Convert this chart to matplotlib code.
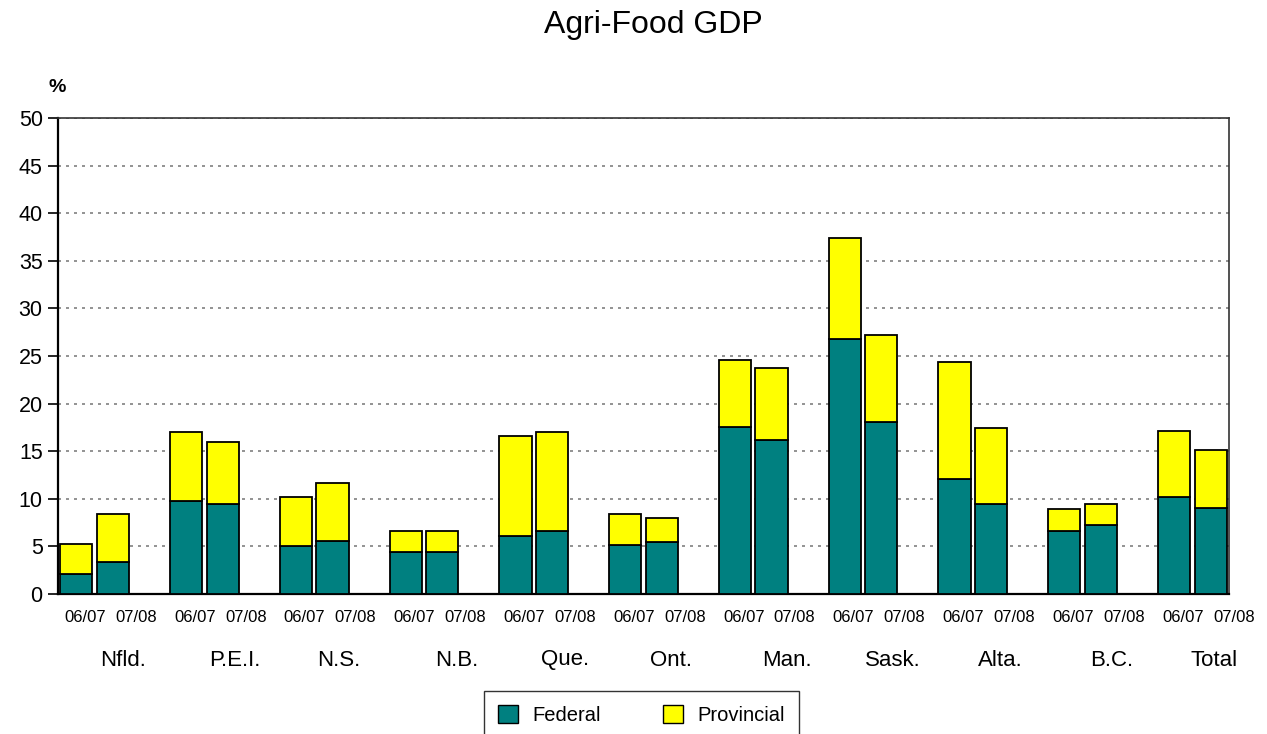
import matplotlib
matplotlib.use("Agg")
import matplotlib.pyplot as plt
from matplotlib.patches import Patch
import numpy as np

plt.rcParams['font.family'] = ['Liberation Sans', 'DejaVu Sans']

regions = ["Nfld.", "P.E.I.", "N.S.", "N.B.", "Que.", "Ont.", "Man.", "Sask.", "Alta.", "B.C.", "Total"]
years = ["06/07", "07/08"]
federal_0607 = [2.1, 9.8, 5.0, 4.4, 6.1, 5.15, 17.5, 26.8, 12.1, 6.6, 10.2]
federal_0708 = [3.35, 9.5, 5.6, 4.4, 6.6, 5.45, 16.2, 18.1, 9.5, 7.3, 9.05]
total_0607 = [5.25, 17.0, 10.2, 6.6, 16.6, 8.45, 24.6, 37.4, 24.4, 8.9, 17.15]
total_0708 = [8.45, 16.0, 11.7, 6.6, 17.0, 8.0, 23.75, 27.2, 17.45, 9.5, 15.15]
yticks = list(range(0, 51, 5))

teal = "#008080"
yellow = "#FFFF00"

W, H = 1267, 734
fig = plt.figure(figsize=(W / 100, H / 100), dpi=100)
ax = fig.add_axes([58 / W, 1 - 594 / H, (1229 - 58) / W, (594 - 118) / H])

n = len(regions)
x0 = np.arange(n) * 3
x1 = x0 + 1
w = 0.88
fed0 = np.array(federal_0607)
fed1 = np.array(federal_0708)
prov0 = np.array(total_0607) - fed0
prov1 = np.array(total_0708) - fed1

kw = dict(width=w, edgecolor="black", linewidth=1.3, zorder=3)
ax.bar(x0, fed0, color=teal, **kw)
ax.bar(x0, prov0, bottom=fed0, color=yellow, **kw)
ax.bar(x1, fed1, color=teal, **kw)
ax.bar(x1, prov1, bottom=fed1, color=yellow, **kw)

ax.set_xlim(-0.5, 3 * n - 1.5)
ax.set_ylim(0, 50)
ax.set_yticks(yticks)
ax.set_yticklabels([str(t) for t in yticks], fontsize=15.5)
ax.yaxis.grid(True, linestyle=(0, (1.8, 3.0)), color="#808080", linewidth=1.2, zorder=0)
ax.set_axisbelow(True)
ax.tick_params(axis='y', length=7, width=1.2, direction='out', pad=4)
ax.tick_params(axis='x', length=0)

for s in ["left", "bottom"]:
    ax.spines[s].set_linewidth(1.6)
    ax.spines[s].set_color("black")
for s in ["top", "right"]:
    ax.spines[s].set_linewidth(1.2)
    ax.spines[s].set_color("#333333")

# sub-category labels (slightly offset right of the bars, as in the reference)
ax.set_xticks([])
for i in range(n):
    ax.text(x0[i] + 0.24, -0.049, years[0], transform=ax.get_xaxis_transform(),
            ha="center", va="center", fontsize=12)
    ax.text(x1[i] + 0.63, -0.049, years[1], transform=ax.get_xaxis_transform(),
            ha="center", va="center", fontsize=12)

# group labels, pixel positions as laid out in the reference
label_px = [123, 235, 339, 457, 565, 671, 787, 893, 1000, 1112, 1214]
for name, xp in zip(regions, label_px):
    fig.text(xp / W, 1 - 660 / H, name, ha="center", va="center", fontsize=16)

fig.text(653 / W, 1 - 25 / H, "Agri-Food GDP", ha="center", va="center", fontsize=23)
fig.text(57 / W, 1 - 88 / H, "%", ha="center", va="center", fontsize=14, fontweight="bold")

handles = [Patch(facecolor=teal, edgecolor="black", label="Federal"),
           Patch(facecolor=yellow, edgecolor="black", label="Provincial")]
leg = fig.legend(handles=handles, loc="upper left", bbox_to_anchor=(484 / W, 1 - 691 / H),
                 borderaxespad=0, ncol=2, frameon=True, fontsize=14.5, fancybox=False,
                 edgecolor="black", handlelength=1.0, handleheight=1.0, columnspacing=3.1,
                 borderpad=0.7, handletextpad=0.7)
leg.get_frame().set_linewidth(1.0)

fig.savefig("out.png", dpi=100)
